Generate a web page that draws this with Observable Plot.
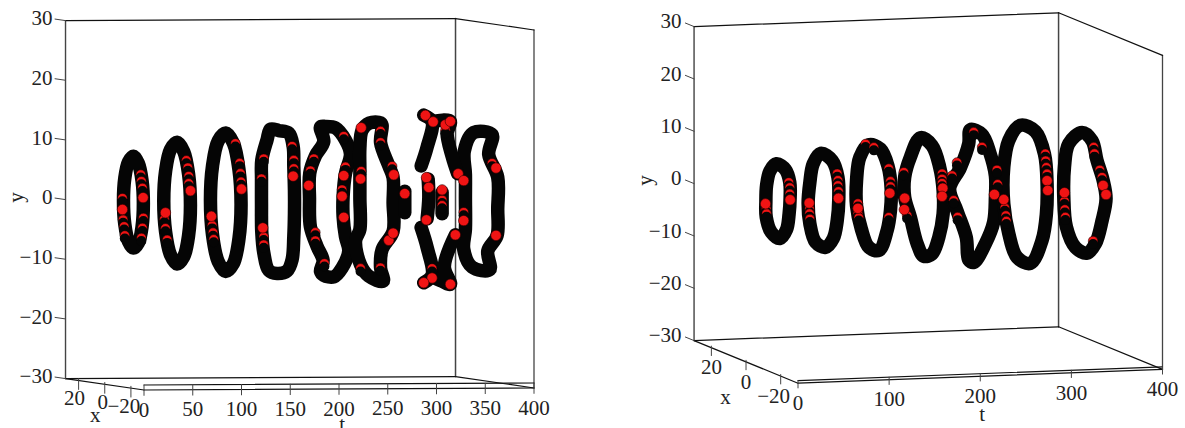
<!DOCTYPE html>
<html><head><meta charset="utf-8">
<style>html,body{margin:0;background:#fff}#row{display:flex;width:1185px;height:428px;overflow:hidden}svg{display:block;flex:none}</style>
<script src="https://cdn.jsdelivr.net/npm/d3@7"></script>
<script src="https://cdn.jsdelivr.net/npm/@observablehq/plot@0.6"></script>
</head><body><div id="row"></div>
<script>
// ---- left panel: rings as [x, y] at a fixed t
const tL=[29.4,74.2,124.1,177.8,227.7,278.7,385.6];
const L1=[[0,8.2],[3.8,7.1],[6.6,4.3],[7.6,.5],[6.6,-3.4],[3.8,-6.2],[0,-7.2],[-3.8,-6.2],[-6.6,-3.4],[-7.6,.5],[-6.6,4.3],[-3.8,7.1]];
const L2=[[0,10.5],[5.1,9.1],[8.8,5.4],[10.2,.3],[8.8,-4.8],[5.1,-8.5],[0,-9.9],[-5.1,-8.5],[-8.8,-4.8],[-10.2,.3],[-8.8,5.4],[-5.1,9.1]];
const L3=[[0,12],[5.8,10.5],[10.1,6.2],[11.7,.4],[10.1,-5.4],[5.8,-9.7],[0,-11.2],[-5.8,-9.7],[-10.1,-5.4],[-11.7,.4],[-10.1,6.2],[-5.8,10.5]];
const L4=[[5.9,12.4],[-.5,12.4],[-8.2,12.2],[-11.5,10.1],[-12,6.7],[-12.5,2.8],[-12.5,-1.1],[-12,-5],[-10.7,-8.9],[-6.9,-10.9],[.8,-11.6],[7.1,-11.3],[11,-8.4],[12.5,-5],[12.7,-.5],[12.7,3.9],[12.5,7],[8.4,10.6]];
const L5=[[4.8,12.8],[1,13],[-6.6,13],[-14.3,11.2],[-18.1,9],[-14.3,5.6],[-12.5,1.7],[-12.5,-1.7],[-14.3,-5],[-16.8,-7.3],[-11.7,-10.3],[-5.4,-12],[2.3,-12],[4.8,-11.4],[2.8,-9.5],[7.4,-7.3],[12.5,-4.2],[13.2,.6],[13,4.8],[8.7,7.8],[2.3,10.4]];
const L6=[[12.7,5.3],[12.7,9],[11,12],[5.4,13.4],[-3,13.7],[-4.3,13.3],[-3.1,10.4],[-9.4,6.7],[-12.7,4.8],[-12.7,.6],[-12.7,-4.2],[-4.3,-7.5],[-3.1,-10.6],[-5.1,-12.8],[5.9,-12.3],[12.2,-10.6],[16,-6.7],[12.7,-4.7],[12.7,.6]];
const L8=[[11.7,4.5],[12.5,8.4],[5.4,11.7],[-8.7,11.8],[-6.1,8.4],[-13,4.8],[-13,-.5],[-12.5,-5],[-5.4,-7.8],[-6.9,-10.9],[6.6,-10.9],[13,-8.1],[11.7,-4.7],[11.7,.6]];
// broken ring near t=349 and two short bars, [t, x, y]
const brokenA=[[349.4,18.6,5.7],[349.4,14,9],[349.4,10.2,13.4],[349.4,16.6,14.3]];
const brokenB=[[349.4,10.2,13.4],[349.4,2.5,13.9],[349.4,-3.8,13.9],[349.4,-1.3,11.8],[349.4,-5.1,8.1],[349.4,-9.4,5.3]];
const brokenC=[[349.4,13.2,3.7],[349.4,12.7,.6],[349.4,14,-3]];
const brokenD=[[349.4,18.6,-4.6],[349.4,14,-7.8],[349.4,10.2,-12.3],[349.4,16.6,-13.8]];
const brokenE=[[349.4,10.2,-12.6],[349.4,2.5,-13.1],[349.4,-3.8,-13.4],[349.4,.8,-10.6],[349.4,-7.6,-5]];
const barA=[[307.7,0,2.1],[307.7,0,-1.5]];
const barB=[[346,0,1.9],[346,0,-1.7]];
// red section points, [t, x, y]
const flecksL=[
[29.4,-5.6,5.3],[29.4,-6.1,4.2],[29.4,-6.9,3.1],[29.4,8.4,.9],[29.4,-7.6,-1.9],[29.4,7.9,-2.7],[29.4,-6.9,-3.6],[29.4,7.1,-3.8],[29.4,6.6,-5.3],[29.4,-6.1,-5.3],
[74.2,-7.1,7.7],[74.2,-8.2,6.5],[74.2,-8.9,5.1],[74.2,-8.9,3.9],[74.2,9.7,-2.7],[74.2,8.9,-4.2],[74.2,7.6,-6.1],
[124.1,-7.4,10.5],[124.1,-10.7,7.3],[124.1,-11.2,5.6],[124.1,-11.7,4.2],[124.1,10.4,-3.8],[124.1,9.7,-5],[124.1,9.2,-6.1],
[177.8,-10.7,10.1],[177.8,-12,7.8],[177.8,11,7.3],[177.8,-12,6.4],[177.8,12.7,3.9],[177.8,11,-5.8],[177.8,11,-7.1],
[227.7,-13,11.8],[227.7,9.9,7.3],[227.7,-14.3,6.7],[227.7,12.5,5.2],[227.7,-11.7,2.8],[227.7,8.7,-5],[227.7,8.7,-6.4],[227.7,1.8,-10],
[278.7,-3.1,12.3],[278.7,-3.1,10.4],[278.7,-12,6.7],[278.7,11.7,5.1],[278.7,-3,-10.6],[278.7,12.2,-11.2],
[346,0,.6],[346,0,-.3],[349.4,0,12.3],[349.4,10.2,-11.2],
[385.6,-8.7,7],[385.6,13,-1.9]];
const bigL=[[29.4,-7.4,1.5],[29.4,8.4,-1],[74.2,-10.2,2.7],[74.2,8.9,-1.6],[124.1,-12,3],[124.1,11,-2.3],[177.8,-11.5,5.1],[177.8,11.7,-4.3],
[227.7,13.8,2.7],[227.7,-13,5.2],[227.7,-13,-1.8],[227.7,-11.7,1.7],
[278.7,11.7,12.4],[278.7,12.2,3.8],[278.7,-13.2,5.3],[278.7,-9.4,-5.8],[278.7,-12.7,-4.5],
[307.7,0,1.7],[346,0,2.3],
[349.4,15.3,14.3],[349.4,9.4,13.4],[349.4,0,13.2],[349.4,-3.8,13.9],[349.4,14.5,3.9],[349.4,12.7,2.3],[349.4,14.5,-3.2],[349.4,-9.7,5.3],[349.4,-7.6,-5],[349.4,10.2,-12.8],[349.4,16.6,-13.8],[349.4,-3.8,-13.4],
[385.6,13,3.4],[385.6,13,-3.3],[385.6,-11.7,6.3],[385.6,-11.7,-5]];
// ---- right panel
const tR=[35.1,84.7,139.9,195,248,306.6,371.7];
const R1=[[.9,7.5],[-4.3,7.1],[-6.8,5],[-7,2.1],[-6.4,-1.1],[-4.9,-4.3],[-1.1,-6.5],[3.9,-6],[6.8,-3.5],[7,-.5],[6.6,2.6],[4.7,5.6]];
const R2=[[1.5,9.1],[-5.2,8.6],[-8.5,5.9],[-9,1.8],[-8.1,-2.4],[-5.8,-6.2],[-1.3,-8.5],[4.4,-8.3],[7.7,-5.2],[8.7,-1.4],[7.7,2.7],[5.8,6.5]];
const R3=[[2.7,10.2],[-4,10.3],[-8.3,7.7],[-10.2,3.5],[-9.8,-.6],[-7.9,-4.7],[-3.1,-9.2],[2.7,-9.4],[7.1,-6.4],[9.8,-2.4],[9.8,2.4],[7.9,7.1]];
const R4=[[1.9,11.3],[-4.8,10.7],[-9.2,7.2],[-11.2,3],[-11.2,-1.5],[-8.7,-6.3],[-4.8,-10],[0,-11.1],[3.8,-9.2],[7.7,-4.7],[11,-1.3],[11,2.5],[7.7,6.8]];
const R5=[[1,12.6],[-5.8,12.6],[-10.2,9.8],[-13.5,5.8],[-13.5,1.7],[-12.5,-3.2],[-7.7,-8],[-1,-12.5],[1.9,-12.4],[3.3,-8.3],[8.7,-3.9],[12.9,-.3],[6.7,4.6],[1.9,9.8]];
const R6=[[2.9,12.8],[-5.8,12.8],[-11,9.2],[-12.5,3.7],[-12.1,-2.1],[-9.6,-7.5],[-2.9,-12.8],[4.8,-12.7],[9.6,-8.8],[12.5,-3.5],[12.5,3.5],[9.6,9]];
const R7=[[1.5,11.2],[-4.2,10.4],[-7.1,7],[-10.6,3.7],[-12.3,.4],[-10,-4.1],[-6.2,-9],[-1.3,-11.5],[5.4,-11.3],[10.6,-8.1],[12.1,-2.6],[11.7,3.2],[9.2,8]];
const flecksR=[
[35.1,-6.2,4.9],[35.1,-6.8,4],[35.1,-6.8,2.8],[35.1,6.8,-1.9],[35.1,6.6,-2.8],
[84.7,-8.1,6.5],[84.7,-8.5,5.3],[84.7,-8.5,4.3],[84.7,-8.8,3.2],[84.7,7.9,-2.4],[84.7,7.9,-3.3],[84.7,7.7,-4.3],
[139.9,4.6,10.1],[139.9,-.2,10.1],[139.9,-8.8,7.2],[139.9,-9.8,4.9],[139.9,-9.8,3.9],[139.9,9,-1.9],[139.9,-8.8,-2.1],[139.9,9,-3.8],[139.9,8.5,-4.5],
[195,-10.6,6.1],[195,-10.6,5.1],[195,-10.6,4.3],[195,11.5,3.4],[195,9.6,-4.6],
[248,-1,12.4],[248,-5.8,10.2],[248,-14.4,7],[248,8.7,5.3],[248,-14.8,4.3],[248,11.5,2.4],[248,10.6,-2.2],[248,8.3,-5.1],
[306.6,-11.5,9.3],[306.6,-11.7,8],[306.6,-12.1,6.8],[306.6,-12.5,5.6],[306.6,11.9,-4.2],[306.6,11.3,-5.6],[306.6,11,-6.6],
[371.7,-5.2,9.3],[371.7,-5.6,8.1],[371.7,-8.7,5.4],[371.7,-10,4.2],[371.7,11.7,-3.3],[371.7,11.5,-4.9],[371.7,11.2,-6.3],[371.7,-4.8,-8.7]];
const bigR=[[35.1,-7,1.7],[35.1,7.2,-1],[84.7,-8.8,1.9],[84.7,8.1,-1.3],[139.9,-9.4,2.6],[139.9,9,-2.8],[195,-11,3.4],[195,-10.6,1.8],[195,11,-1.5],[195,11.2,-3.7],
[248,-12.9,2.1],[306.6,12.5,-2.7],[306.6,-12.5,4.3],[306.6,-12.9,2.5],[371.7,11.7,-1.7],[371.7,-10.6,2.7],[371.7,-12.3,1.2]];
// ---- axes
const yTicks=[-30,-20,-10,0,10,20,30];
const xTicks=[20,0,-20];
const tTicksL=[0,50,100,150,200,250,300,350,400];
const tTicksR=[0,100,200,300,400];
const minus=v=>String(v).replace("-","\u2212");

function panel(o){
  const p=([t,x,y])=>({u:t-(x+30)*o.k, v:y+(o.e*t+o.f*(x+30))/o.g});
  const ink="#111", grey="#444", FF="Liberation Serif";
  const seg=(a,b,c=ink,w=1.2)=>Plot.line([p(a),p(b)],{x:"u",y:"v",stroke:c,strokeWidth:w});
  const band=(arr,curve)=>Plot.line(arr.map(p),{x:"u",y:"v",curve,stroke:"#050505",strokeWidth:13.5,strokeLinecap:"round",strokeLinejoin:"round"});
  const marks=[];
  // box
  marks.push(seg([0,30,-30],[0,30,30],grey,1.4),seg([400,30,-30],[400,30,30],grey,1.5),seg([400,-30,-30],[400,-30,30],grey,1.3));
  marks.push(seg([0,30,30],[400,30,30]),seg([400,30,30],[400,-30,30]));
  marks.push(seg([0,30,-30],[400,30,-30]),seg([400,30,-30],[400,-30,-30]));
  marks.push(seg([0,30,-30],[0,-30,-30]),seg([0,-30,-30],[400,-30,-30]));
  marks.push(seg([0,-30,o.up],[400,-30,o.up]));
  // ticks
  for(const y of yTicks) marks.push(seg([0,30,y],[0,o.yt,y],grey,1));
  for(const x of xTicks) marks.push(seg([0,x,-29.7],[0,x,-31.5],grey,1));
  for(const t of o.tTicks) marks.push(seg([t,-30,o.up],[t,-30,-30.9],grey,1));
  const text=(data,opts)=>Plot.text(data,{x:"u",y:"v",text:"s",fontFamily:FF,fontSize:21,fill:"#222",...opts});
  marks.push(text(yTicks.map(y=>({...p([0,o.yl,y]),s:minus(y)})),{textAnchor:"end"}));
  xTicks.forEach((x,i)=>marks.push(text([{...p([0,x,-30]),s:minus(x)}],{dy:o.xdy,dx:o.xdx[i]})));
  marks.push(text(o.tTicks.map(t=>({...p([t,-30,-30]),s:String(t)})),{dy:20}));
  marks.push(text([{...p(o.lx),s:"x"}],{}),text([{...p(o.lt),s:"t"}],{}),text([{...p(o.ly),s:"y"}],{rotate:-90}));
  // rings
  o.rings.forEach((r,i)=>marks.push(band(r.map(([x,y])=>[o.ts[i],x,y]),"catmull-rom-closed")));
  (o.open||[]).forEach(r=>marks.push(band(r,"catmull-rom")));
  // red section points: each is partly covered by the next black dot
  for(const f of o.flecks){
    marks.push(Plot.dot([p(f)],{x:"u",y:"v",r:4.8,fill:"#f01414",stroke:"#000",strokeWidth:.5}));
    marks.push(Plot.dot([p(f)],{x:"u",y:"v",r:5,fill:"#050505",dy:3}));
  }
  marks.push(Plot.dot(o.big.map(p),{x:"u",y:"v",r:5.2,fill:"#f01414",stroke:"#300",strokeWidth:.6}));
  return Plot.plot({width:o.w,height:428,margin:0,style:{background:"#fff"},
    x:{domain:[0,400],range:o.xr,axis:null},y:{domain:[-30,30],range:o.yr,axis:null},marks});
}
const row=document.getElementById("row");
row.append(panel({w:592,k:1.3415,e:.005,f:.19,g:5.967,xr:[143.5,533.5],yr:[389.5,31.5],up:-29.16,yt:38,yl:40,tTicks:tTicksL,xdy:18,xdx:[-4,-2,-7],
  rings:[L1,L2,L3,L4,L5,L6,L8],ts:tL,open:[brokenA,brokenB,brokenC,brokenD,brokenE,barA,barB],flecks:flecksL,big:bigL,
  lx:[0,7.2,-35.47],lt:[203.3,-30,-35.95],ly:[0,68,-.85]}));
row.append(panel({w:593,k:1.901,e:.0345,f:.71,g:5.233,xr:[205.5,570],yr:[382.7,68.7],up:-29.5,yt:35,yl:37.2,tTicks:tTicksR,xdy:20,xdx:[0,0,-7],
  rings:[R1,R2,R3,R4,R5,R6,R7],ts:tR,open:[],flecks:flecksR,big:bigR,
  lx:[0,11.8,-38.41],lt:[202,-30,-37.28],ly:[0,58,-3.2]}));
</script></body></html>
